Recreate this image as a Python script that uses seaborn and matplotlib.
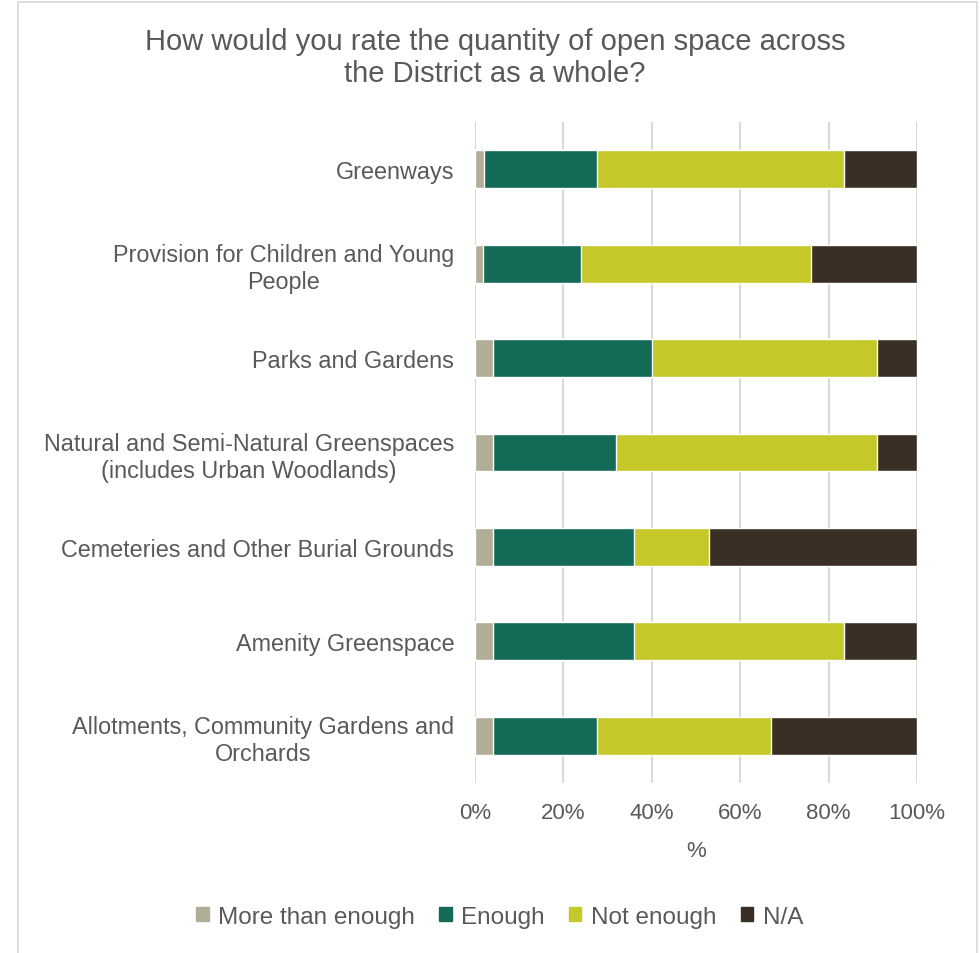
import matplotlib
matplotlib.use("Agg")
import matplotlib.pyplot as plt
import seaborn as sns
import numpy as np
from matplotlib.patches import Rectangle

#%% DATA (percent of respondents)

categories = [
    "Greenways",
    "Provision for Children and Young\nPeople",
    "Parks and Gardens",
    "Natural and Semi-Natural Greenspaces\n(includes Urban Woodlands)",
    "Cemeteries and Other Burial Grounds",
    "Amenity Greenspace",
    "Allotments, Community Gardens and\nOrchards",
]
series_names = ["More than enough", "Enough", "Not enough", "N/A"]
more_than_enough = [2.0, 1.8, 4.0, 4.0, 4.0, 4.0, 4.0]
enough = [25.6, 22.2, 36.0, 28.0, 32.0, 32.0, 23.6]
not_enough = [55.8, 52.0, 51.0, 59.0, 17.0, 47.4, 39.4]
n_a = [16.6, 24.0, 9.0, 9.0, 47.0, 16.6, 33.0]

colors = ["#b2ad97", "#136b57", "#c4c829", "#3a2f25"]
text_col = "#595959"

#%% PLOT

sns.set_style("white")
plt.rcParams['font.family'] = ['Liberation Sans', 'DejaVu Sans']

fig = plt.figure(figsize=(9.8, 9.54), dpi=100)
ax = fig.add_axes([0.4847, 0.1782, 0.4510, 0.6929])

# stacked bars: draw the cumulative totals from the back to the front
values = np.array([more_than_enough, enough, not_enough, n_a])
cum = np.cumsum(values, axis=0)
for i in range(len(series_names) - 1, -1, -1):
    sns.barplot(x=cum[i], y=categories, orient="h", color=colors[i],
                width=0.4, saturation=1, ax=ax, zorder=3)

ax.set_xlim(0, 100)
ax.set_xticks([0, 20, 40, 60, 80, 100])
ax.set_xticklabels([f"{t}%" for t in range(0, 101, 20)])
ax.grid(axis="x", color="#d9d9d9", linewidth=1.5, zorder=0)
ax.grid(axis="y", visible=False)
for s in ax.spines.values():
    s.set_visible(False)
ax.tick_params(axis="x", length=0, labelsize=16, labelcolor=text_col, pad=14)
ax.tick_params(axis="y", length=0, labelsize=16.8, labelcolor=text_col, pad=15)
for lab in ax.get_yticklabels():
    lab.set_multialignment("center")
ax.set_ylabel("")
ax.set_xlabel("%", fontsize=16, color=text_col, labelpad=12)

fig.text(0.505, 0.939, "How would you rate the quantity of open space across\nthe District as a whole?",
         ha="center", va="center", fontsize=21, color=text_col, linespacing=1.2)

handles = [Rectangle((0, 0), 1, 1, color=c) for c in colors]
fig.legend(handles, series_names, loc="center", bbox_to_anchor=(0.51, 0.038),
           ncol=4, frameon=False, fontsize=17.5, labelcolor=text_col,
           handlelength=0.5, handleheight=0.5, handletextpad=0.4, columnspacing=1.0)

# chart area border
fig.patches.append(Rectangle((18 / 980, -0.01), 959 / 980, 1 - 3 / 954 + 0.01,
                             transform=fig.transFigure, fill=False,
                             edgecolor="#d9d9d9", linewidth=1.2))

fig.savefig("out.png", dpi=100)
